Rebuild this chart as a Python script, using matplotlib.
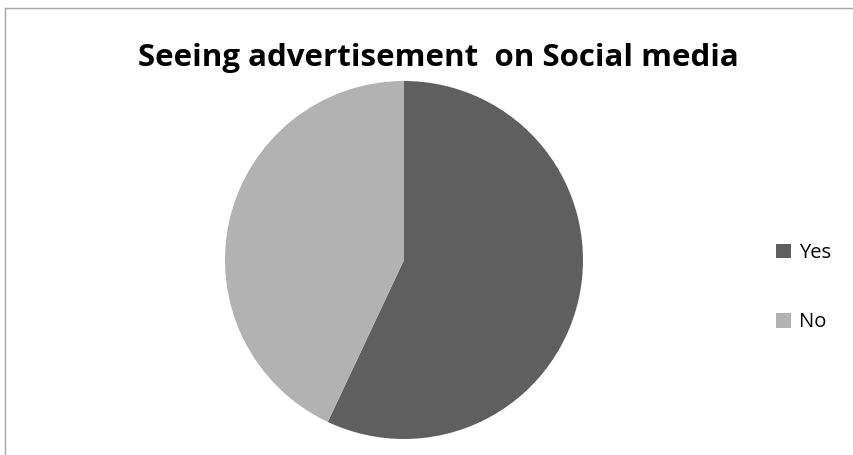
import matplotlib
matplotlib.use("Agg")
import matplotlib.pyplot as plt
from matplotlib.lines import Line2D

labels = ["Yes", "No"]
values = [57, 43]
colors = ["#5f5f5f", "#b2b2b2"]
title = "Seeing advertisement  on Social media"

W, H = 854, 455
fig = plt.figure(figsize=(W / 100, H / 100), dpi=100)

# chart frame (grey border, running off the right and bottom edges)
fig.add_artist(Line2D([5 / W, 1.0], [1 - 8 / H, 1 - 8 / H], color="#a6a6a6", lw=1))
fig.add_artist(Line2D([5 / W, 5 / W], [0.0, 1 - 8 / H], color="#a6a6a6", lw=1))

cx, cy, r = 404, 260, 179
ax = fig.add_axes([(cx - r) / W, 1 - (cy + r) / H, 2 * r / W, 2 * r / H])
wedges, _ = ax.pie(values, colors=colors, startangle=90, counterclock=False,
                   radius=1.0, wedgeprops=dict(linewidth=0))
ax.set_xlim(-1, 1)
ax.set_ylim(-1, 1)
ax.set_aspect("equal")
ax.axis("off")

fig.text(438 / W, 1 - 58 / H, title, ha="center", va="center",
         fontsize=22.5, fontweight="bold", family="Open Sans")

fig.legend(wedges, labels, loc="upper left",
           bbox_to_anchor=(766 / W, 1 - 233 / H), frameon=False,
           prop={"family": "Open Sans", "size": 14.5},
           handlelength=0.75, handleheight=0.75, handletextpad=0.4,
           labelspacing=2.45, borderpad=0)

fig.savefig("out.png", dpi=100)
